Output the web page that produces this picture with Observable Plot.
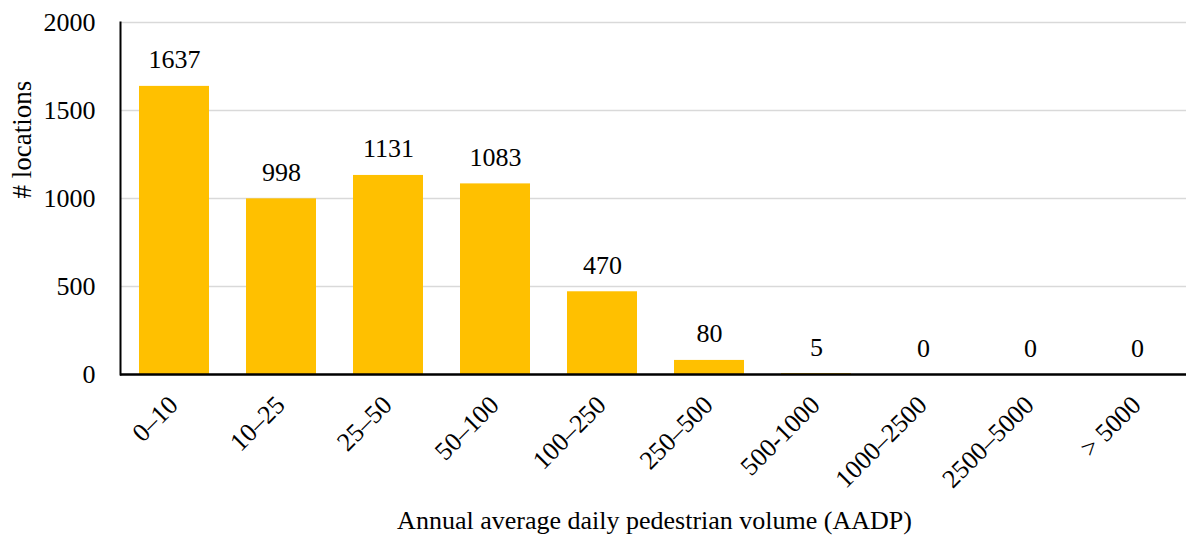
<!DOCTYPE html>
<html>
<head>
<meta charset="utf-8">
<script src="https://cdn.jsdelivr.net/npm/d3@7"></script>
<script src="https://cdn.jsdelivr.net/npm/@observablehq/plot@0.6"></script>
<style>
  html, body { margin: 0; padding: 0; background: #fff; }
  #chart svg { display: block; overflow: hidden; }
  #chart svg text { font-family: 'Liberation Serif', 'Times New Roman', serif; fill: #000; }
  #chart g[aria-label="y-axis tick label"] { font-size: 26px; }
</style>
</head>
<body>
<div id="chart"></div>
<script>
// AADP volume bins and number of count locations in each
const bins = ["0–10", "10–25", "25–50", "50–100", "100–250", "250–500", "500-1000", "1000–2500", "2500–5000", "> 5000"];
const locations = [1637, 998, 1131, 1083, 470, 80, 5, 0, 0, 0];
const yTicks = [0, 500, 1000, 1500, 2000];
const yLabel = "# locations";
const xLabel = "Annual average daily pedestrian volume (AADP)";

const data = bins.map((bin, i) => ({bin, count: locations[i]}));
const font = "'Liberation Serif', 'Times New Roman', serif";

const chart = Plot.plot({
  width: 1186,
  height: 537,
  marginLeft: 120,
  marginRight: -6,
  marginTop: 22,
  marginBottom: 163,
  style: {fontFamily: font, fontSize: "26px", color: "#000", background: "#fff"},
  x: {domain: bins, paddingInner: 0.345, paddingOuter: 0.1725, axis: null, label: null},
  y: {domain: [0, 2000], label: null},
  marks: [
    Plot.gridY(yTicks, {stroke: "#d9d9d9", strokeOpacity: 1, strokeWidth: 1.5}),
    Plot.barY(data, {x: "bin", y: "count", fill: "#FFC000"}),
    // value labels above each bar
    Plot.text(data, {x: "bin", y: "count", text: d => String(d.count), lineAnchor: "bottom", dy: -18,
      fontSize: 26, fontFamily: font, fill: "#000"}),
    Plot.ruleY([0], {stroke: "#000", strokeWidth: 2.5}),
    Plot.frame({anchor: "left", stroke: "#000", strokeWidth: 2}),
    Plot.axisY({ticks: yTicks, tickSize: 0, tickPadding: 25, tickFormat: d => String(d),
      fontSize: 26, fontFamily: font, label: null}),
    // rotated category labels under the bars
    Plot.text(bins, {x: d => d, frameAnchor: "bottom", rotate: -45, textAnchor: "end", lineAnchor: "bottom",
      dx: 5, dy: 32, fontSize: 26, fontFamily: font, fill: "#000"}),
    Plot.text([yLabel], {frameAnchor: "left", rotate: -90, lineAnchor: "bottom", dx: -90,
      fontSize: 27, fontFamily: font, fill: "#000"}),
    Plot.text([xLabel], {frameAnchor: "bottom", lineAnchor: "bottom", dx: -2, dy: 154,
      fontSize: 26, fontFamily: font, fill: "#000"})
  ]
});

document.getElementById("chart").append(chart);
</script>
</body>
</html>
